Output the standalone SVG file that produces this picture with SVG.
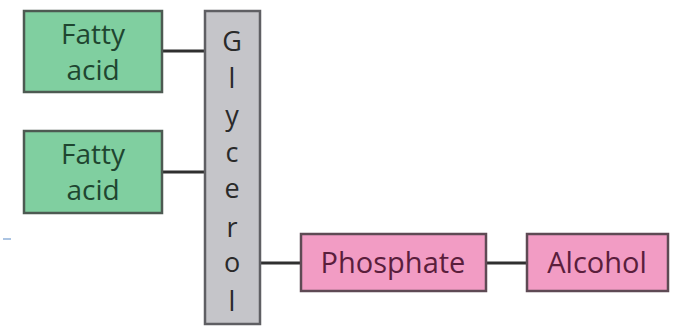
<svg xmlns="http://www.w3.org/2000/svg" width="674" height="328" viewBox="0 0 674 328">
<style>
.g rect{fill:#80cfa0;stroke:#4d5a52;stroke-width:2.5}
.g text{fill:#1f4630;font-size:28px}
.p rect{fill:#f29cc4;stroke:#5e4a54;stroke-width:2.5}
.p text{fill:#5a1e3c}
.gl rect{fill:#c5c5c9;stroke:#5f5f63;stroke-width:2.5}
.gl text{fill:#2a2a2a;font-size:27px}
text{font-family:"Open Sans","Noto Sans",sans-serif;font-size:29px;text-anchor:middle}
.c line{stroke:#2f2f2f;stroke-width:3}
</style>
<rect width="674" height="328" fill="#ffffff"/>
<g class="c" id="connectors">
<line x1="162" y1="51" x2="205" y2="51"/>
<line x1="162" y1="172" x2="205" y2="172"/>
<line x1="260" y1="263" x2="301" y2="263"/>
<line x1="486" y1="263" x2="527" y2="263"/>
</g>
<line x1="3" y1="239" x2="11" y2="239" stroke="#8fb0d8" stroke-width="1.5"/>
<g class="g" id="fatty1">
<rect x="24" y="11" width="138" height="81"/>
<text x="93" y="44">Fatty</text>
<text x="93" y="80">acid</text>
</g>
<g class="g" id="fatty2">
<rect x="24" y="131" width="138" height="82"/>
<text x="93" y="164">Fatty</text>
<text x="93" y="200">acid</text>
</g>
<g class="gl" id="glycerol">
<rect x="205" y="11" width="55" height="313"/>
<text x="232" y="51">G</text>
<text x="232" y="88">l</text>
<text x="232" y="125">y</text>
<text x="232" y="162">c</text>
<text x="232" y="198">e</text>
<text x="232" y="237">r</text>
<text x="232" y="272">o</text>
<text x="232" y="311">l</text>
</g>
<g class="p" id="phosphate">
<rect x="301" y="234" width="185" height="57"/>
<text x="393" y="273">Phosphate</text>
</g>
<g class="p" id="alcohol">
<rect x="527" y="234" width="141" height="57"/>
<text x="597" y="273">Alcohol</text>
</g>
</svg>
